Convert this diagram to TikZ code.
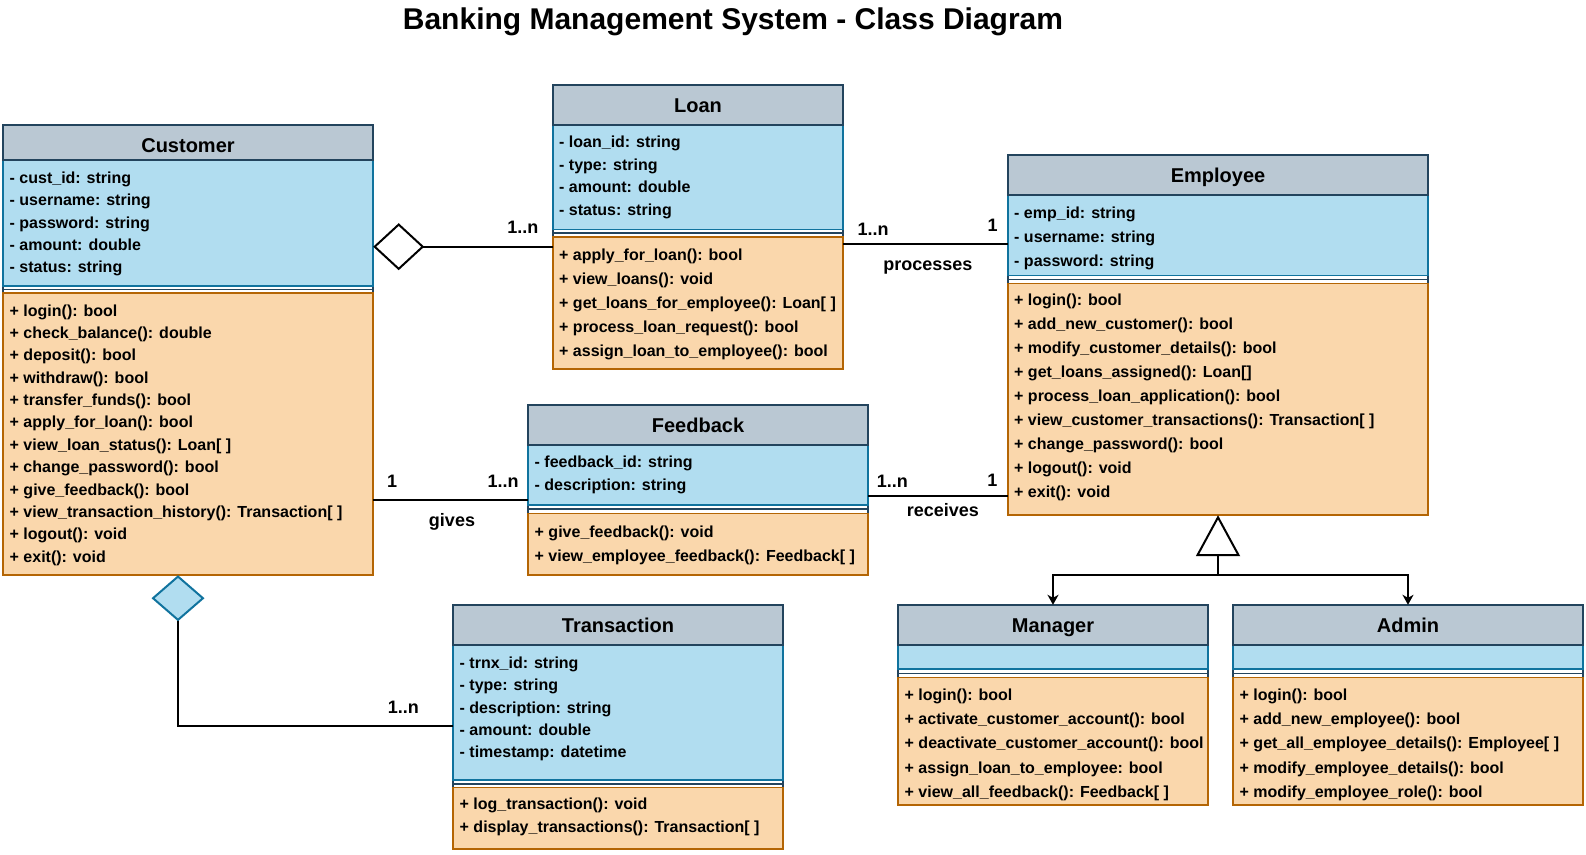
\documentclass[tikz,border=0pt]{standalone}
\usepackage{fontspec}
\setmainfont{Liberation Sans}
\usetikzlibrary{arrows.meta,fit,calc}
\definecolor{hdfill}{HTML}{BAC8D3}
\definecolor{hdline}{HTML}{23445D}
\definecolor{atfill}{HTML}{B1DDF0}
\definecolor{atline}{HTML}{10739E}
\definecolor{mtfill}{HTML}{FAD7AC}
\definecolor{mtline}{HTML}{B46504}
\tikzset{
  headst/.style={fill=hdfill, draw=hdline, line width=1.8pt},
  attrst/.style={fill=atfill, draw=atline, line width=1.3pt},
  methst/.style={fill=mtfill, draw=mtline, line width=1.3pt},
  gapst/.style={fill=white, draw=hdline, line width=1.5pt},
  classtitle/.style={anchor=base, inner sep=0pt, font=\fontsize{20}{24}\selectfont\bfseries},
  rowtext/.style={anchor=base west, inner sep=0pt, font=\fontsize{16}{19}\selectfont\bfseries},
  lbl/.style={anchor=base, inner sep=0pt, font=\fontsize{18}{22}\selectfont\bfseries},
  maintitle/.style={anchor=base, inner sep=0pt, font=\fontsize{30}{36}\selectfont\bfseries},
  conn/.style={draw=black, line width=2pt},
}
% #1 name, #2 x1, #3 y1, #4 x2, #5 header bottom, #6 attr bottom, #7 methods top, #8 y2, #9 title
\newcommand\umlclass[9]{%
  \draw[gapst] (#2,#3) rectangle (#4,#7);
  \draw[gapst] (#2,{(#6+#7)/2}) -- (#4,{(#6+#7)/2});
  \draw[attrst] (#2,#5) rectangle (#4,#6);
  \draw[methst] (#2,#7) rectangle (#4,#8);
  \draw[headst] (#2,#3) rectangle (#4,#5);
  \node[classtitle] (#1-title) at ({(#2+#4)/2},{#3+27.2}) {#9};
  \coordinate (#1-nw) at (#2,#3);
  \coordinate (#1-se) at (#4,#8);
  \node[fit=(#1-nw)(#1-se), inner sep=0pt] (#1) {};
}
% #1 prefix, #2 x, #3 first line centre y, #4 line step, #5 list
\newcommand\umlrows[5]{%
  \foreach \ritem [count=\ri] in {#5}
    \node[rowtext] (#1\ri) at (#2,{#3+5.5+(\ri-1)*#4}) {\ritem};
}
\begin{document}
\begin{tikzpicture}[x=1pt, y=-1pt]
\fill[white] (0,0) rectangle (1586,854);
\useasboundingbox (0,0) rectangle (1586,854);

\node[maintitle] (title) at (733,29.5) {Banking Management System - Class Diagram};

% Customer
\umlclass{cust}{3}{125}{373}{160}{286}{293}{575}{Customer}
\umlrows{ca}{9.5}{177.7}{22.4}{{- cust\_id: string},{- username: string},{- password: string},{- amount: double},{- status: string}}
\umlrows{cm}{9.5}{310.7}{22.35}{{+ login(): bool},{+ check\_balance(): double},{+ deposit(): bool},{+ withdraw(): bool},{+ transfer\_funds(): bool},{+ apply\_for\_loan(): bool},{+ view\_loan\_status(): Loan[ ]},{+ change\_password(): bool},{+ give\_feedback(): bool},{+ view\_transaction\_history(): Transaction[ ]},{+ logout(): void},{+ exit(): void}}

% Loan
\umlclass{loan}{553}{85}{843}{125}{229.3}{237}{369}{Loan}
\umlrows{la}{559}{142.2}{22.5}{{- loan\_id: string},{- type: string},{- amount: double},{- status: string}}
\umlrows{lm}{559}{255}{24}{{+ apply\_for\_loan(): bool},{+ view\_loans(): void},{+ get\_loans\_for\_employee(): Loan[ ]},{+ process\_loan\_request(): bool},{+ assign\_loan\_to\_employee(): bool}}

% Employee
\umlclass{emp}{1008}{155}{1428}{195}{275.7}{283.3}{515}{Employee}
\umlrows{ea}{1014}{213.3}{23.9}{{- emp\_id: string},{- username: string},{- password: string}}
\umlrows{em}{1014}{300.4}{24.0}{{+ login(): bool},{+ add\_new\_customer(): bool},{+ modify\_customer\_details(): bool},{+ get\_loans\_assigned(): Loan[]},{+ process\_loan\_application(): bool},{+ view\_customer\_transactions(): Transaction[ ]},{+ change\_password(): bool},{+ logout(): void},{+ exit(): void}}

% Feedback
\umlclass{fb}{528}{405}{868}{445}{505}{513.3}{575}{Feedback}
\umlrows{fa}{534.5}{462.3}{22.7}{{- feedback\_id: string},{- description: string}}
\umlrows{fm}{534.5}{531.7}{24}{{+ give\_feedback(): void},{+ view\_employee\_feedback(): Feedback[ ]}}

% Transaction
\umlclass{trans}{453}{605}{783}{645}{780}{787.7}{849}{Transaction}
\umlrows{ta}{459.5}{662.7}{22.4}{{- trnx\_id: string},{- type: string},{- description: string},{- amount: double},{- timestamp: datetime}}
\umlrows{tm}{459.5}{804.3}{22.4}{{+ log\_transaction(): void},{+ display\_transactions(): Transaction[ ]}}

% Manager
\umlclass{mgr}{898}{605}{1208}{645}{669}{677.7}{805}{Manager}
\umlrows{mm}{904.5}{695}{24.2}{{+ login(): bool},{+ activate\_customer\_account(): bool},{+ deactivate\_customer\_account(): bool},{+ assign\_loan\_to\_employee: bool},{+ view\_all\_feedback(): Feedback[ ]}}

% Admin
\umlclass{adm}{1233}{605}{1583}{645}{669}{677.7}{805}{Admin}
\umlrows{am}{1239.5}{695}{24.2}{{+ login(): bool},{+ add\_new\_employee(): bool},{+ get\_all\_employee\_details(): Employee[ ]},{+ modify\_employee\_details(): bool},{+ modify\_employee\_role(): bool}}

% Customer - Loan (aggregation)
\coordinate (aggY) at (0,246.7);
\draw[conn, -{Diamond[open, length=51pt, width=47pt, line width=2pt]}] (loan.west |- aggY) -- (cust.east |- aggY);
\node[lbl] (aggN) at (522.8,233.3) {1..n};

% Loan - Employee (processes)
\coordinate (procY) at (0,244.3);
\draw[conn] (loan.east |- procY) -- (emp.west |- procY);
\node[lbl] (procN) at (873,235.7) {1..n};
\node[lbl] (procOne) at (992.7,231) {1};
\node[lbl] (procLbl) at (927.8,270.7) {processes};

% Customer - Feedback (gives)
\coordinate (givY) at (0,500);
\draw[conn] (cust.east |- givY) -- (fb.west |- givY);
\node[lbl] (givOne) at (392,487) {1};
\node[lbl] (givN) at (503,487.5) {1..n};
\node[lbl] (givLbl) at (452,526) {gives};

% Feedback - Employee (receives)
\coordinate (recY) at (0,496);
\draw[conn] (fb.east |- recY) -- (emp.west |- recY);
\node[lbl] (recN) at (892.4,487.3) {1..n};
\node[lbl] (recOne) at (992.3,486.7) {1};
\node[lbl] (recLbl) at (942.8,516) {receives};

% Customer - Transaction (composition)
\coordinate (compX) at (178,0);
\coordinate (compY) at (0,725.7);
\draw[conn, -{Diamond[length=46pt, width=53pt, fill=atfill, color=atline, line width=2pt]}] (trans.west |- compY) -| (cust.south -| compX);
\node[lbl] (compN) at (403.3,713.3) {1..n};

% Inheritance
\coordinate (junc) at (1218,575);
\draw[conn, -{Triangle[open, length=41pt, width=44pt, line width=2pt]}] (junc) -- (emp.south -| junc);
\draw[conn, -{Stealth[length=10pt, width=11pt, inset=3pt]}] (junc) -| (mgr.north);
\draw[conn, -{Stealth[length=10pt, width=11pt, inset=3pt]}] (junc) -| (adm.north);
\end{tikzpicture}
\end{document}
